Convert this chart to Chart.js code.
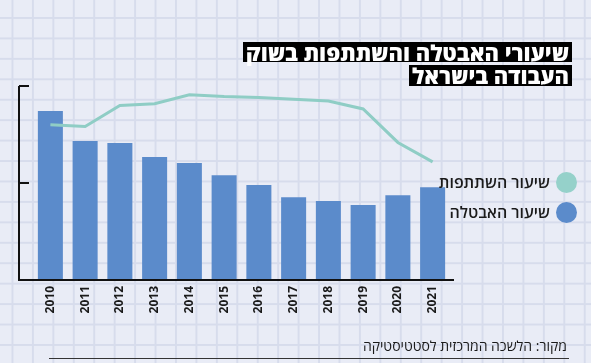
<!DOCTYPE html>
<html lang="he">
<head>
<meta charset="utf-8">
<title>שיעורי האבטלה והשתתפות בשוק העבודה בישראל</title>
<script src="https://cdn.jsdelivr.net/npm/chart.js@4"></script>
<style>
  html, body { margin: 0; padding: 0; }
  body {
    width: 591px; height: 363px; position: relative; overflow: hidden;
    background-color: #e9ecf6;
    background-image:
      linear-gradient(to right, #d7dcec 2px, transparent 2px),
      linear-gradient(to bottom, #d7dcec 2px, transparent 2px);
    background-size: 20.45px 20.45px;
    background-position: 11.5px 17px;
    font-family: "Open Sans", "DejaVu Sans", sans-serif;
  }
  #chart { position: absolute; left: 0; top: 0; }
  .title {
    position: absolute; right: 19px; direction: rtl;
    background: #000; color: #fff; font-weight: 800;
    font-size: 22px; line-height: 20px; height: 20px; padding: 0 3px; white-space: nowrap;
  }
  .legend { position: absolute; right: 14px; direction: rtl; display: flex; align-items: center; gap: 6px; font-size: 16px; font-weight: 600; color: #1a1a1a; }
  .legend .dot { width: 21px; height: 21px; border-radius: 50%; }
  .source { position: absolute; right: 24px; top: 336px; direction: rtl; font-size: 14px; font-weight: 500; color: #1a1a1a; }
  .rule { position: absolute; left: 49px; width: 520px; top: 358px; height: 1px; background: #333; }
</style>
</head>
<body>
<canvas id="chart" width="591" height="363"></canvas>
<div class="title" style="top:42px">שיעורי האבטלה והשתתפות בשוק</div>
<div class="title" style="top:65px;height:21px;line-height:21px">העבודה בישראל</div>
<div class="legend" style="top:171px"><span class="dot" style="background:#95d1ca"></span><span>שיעור השתתפות</span></div>
<div class="legend" style="top:201px"><span class="dot" style="background:#5b8bcb"></span><span>שיעור האבטלה</span></div>
<div class="source">מקור: הלשכה המרכזית לסטטיסטיקה</div>
<div class="rule"></div>
<script>
// data
const years = ['2010', '2011', '2012', '2013', '2014', '2015', '2016', '2017', '2018', '2019', '2020', '2021'];
const unemployment = [8.71, 7.16, 7.06, 6.34, 6.03, 5.40, 4.90, 4.26, 4.07, 3.87, 4.37, 4.78];
const participation = [63.8, 63.7, 64.9, 65.0, 65.5, 65.4, 65.35, 65.25, 65.15, 64.7, 62.8, 61.7];
const yTicks = [0, 5, 10];

// draws the black axis frame on the left and bottom
const axisFrame = {
  id: 'axisFrame',
  afterDraw(chart) {
    const { ctx, scales } = chart;
    const y = scales.y;
    const x0 = 19, x1 = 454;
    ctx.save();
    ctx.strokeStyle = '#111';
    ctx.lineWidth = 2;
    ctx.beginPath();
    ctx.moveTo(x0, y.getPixelForValue(10));
    ctx.lineTo(x0, y.getPixelForValue(0));
    ctx.lineTo(x1, y.getPixelForValue(0));
    yTicks.slice(1).forEach(v => {
      ctx.moveTo(x0, y.getPixelForValue(v));
      ctx.lineTo(x0 + 10, y.getPixelForValue(v));
    });
    ctx.stroke();
    ctx.restore();
  }
};

new Chart(document.getElementById('chart'), {
  data: {
    labels: years,
    datasets: [
      {
        type: 'line',
        label: 'שיעור השתתפות',
        data: participation,
        yAxisID: 'y2',
        borderColor: '#8fcdc5',
        borderWidth: 3,
        pointRadius: 0,
        tension: 0,
        order: 0
      },
      {
        type: 'bar',
        label: 'שיעור האבטלה',
        data: unemployment,
        yAxisID: 'y',
        backgroundColor: '#5b8bcb',
        barPercentage: 0.72,
        categoryPercentage: 1,
        order: 1
      }
    ]
  },
  options: {
    responsive: false,
    animation: false,
    layout: { padding: { left: 33, right: 141, top: 86, bottom: 43 } },
    plugins: { legend: { display: false }, tooltip: { enabled: false } },
    scales: {
      x: {
        border: { display: false },
        grid: { display: false, drawTicks: false },
        ticks: {
          color: '#1a1a1a', minRotation: 90, maxRotation: 90, padding: 6,
          font: { family: '"Open Sans", "DejaVu Sans", sans-serif', size: 12, weight: 'bold' }
        },
        afterFit(scale) { scale.height = 40; }
      },
      y: { display: false, min: 0, max: 10 },
      y2: { display: false, min: 55, max: 66 }
    }
  },
  plugins: [axisFrame]
});
</script>
</body>
</html>
